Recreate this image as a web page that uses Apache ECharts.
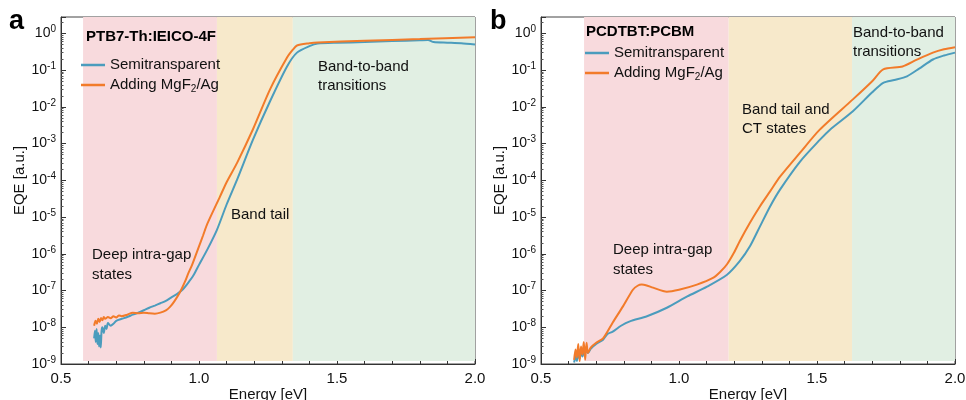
<!DOCTYPE html>
<html><head><meta charset="utf-8">
<script src="https://cdn.jsdelivr.net/npm/echarts@6/dist/echarts.min.js"></script>
<style>html,body{margin:0;padding:0;background:#fff}#c{width:966px;height:400px}</style>
</head><body><div id="c"></div>
<script>
// ---- Panel a: PTB7-Th:IEICO-4F ----
const aSemiE = [0.620,0.623,0.626,0.629,0.632,0.635,0.638,0.641,0.644,0.647,0.650,0.655,0.660,0.665,0.670,0.680,0.690,0.700,0.720,0.740,0.760,0.780,0.800,0.820,0.840,0.860,0.880,0.900,0.920,0.940,0.960,0.980,1.000,1.030,1.065,1.100,1.138,1.196,1.257,1.319,1.355,1.400,1.430,1.500,1.600,1.700,1.800,1.830,1.850,1.900,1.950,2.000];
const aSemiV = [5e-9,8e-9,4e-9,9e-9,3.5e-9,7e-9,3e-9,6e-9,2.8e-9,8e-9,1e-8,7e-9,1.1e-8,9e-9,1.3e-8,1.1e-8,1.25e-8,1.5e-8,1.7e-8,1.9e-8,2.2e-8,2.5e-8,2.9e-8,3.4e-8,3.9e-8,4.5e-8,5.2e-8,6.5e-8,8e-8,1.05e-7,1.6e-7,2.6e-7,5e-7,1.3e-6,4.5e-6,2.2e-5,1.05e-4,1.3e-3,1.4e-2,0.126,0.3,0.45,0.53,0.56,0.58,0.62,0.65,0.66,0.58,0.56,0.54,0.5];
const aMgE = [0.620,0.625,0.630,0.635,0.640,0.645,0.650,0.655,0.660,0.670,0.680,0.690,0.700,0.710,0.720,0.740,0.760,0.780,0.800,0.820,0.840,0.860,0.880,0.895,0.910,0.930,0.950,0.960,0.975,1.000,1.015,1.030,1.076,1.100,1.138,1.196,1.257,1.319,1.340,1.355,1.400,1.430,1.600,1.800,2.000];
const aMgV = [1.1e-8,1.5e-8,1.25e-8,1.7e-8,1.4e-8,1.8e-8,1.55e-8,1.9e-8,1.7e-8,1.9e-8,1.75e-8,2e-8,1.85e-8,2.1e-8,2e-8,2.2e-8,2.5e-8,2.4e-8,2.5e-8,2.4e-8,2.35e-8,2.5e-8,2.9e-8,3.6e-8,5e-8,8.7e-8,1.8e-7,2.8e-7,5e-7,1.6e-6,3.2e-6,6.5e-6,3.6e-5,8.9e-5,3e-4,2.5e-3,2.95e-2,0.22,0.36,0.47,0.54,0.57,0.63,0.7,0.79];
const aBands = [[0.58,1.065],[1.065,1.34],[1.34,2.0]];

// ---- Panel b: PCDTBT:PCBM ----
const bSemiE = [0.620,0.625,0.630,0.635,0.640,0.645,0.650,0.660,0.670,0.680,0.700,0.725,0.740,0.760,0.790,0.822,0.884,0.956,1.030,1.100,1.174,1.220,1.257,1.293,1.330,1.366,1.438,1.510,1.547,1.630,1.700,1.740,1.780,1.826,1.870,1.920,1.960,2.000];
const bSemiV = [1.1e-9,1.6e-9,1.2e-9,2e-9,1.4e-9,2.2e-9,1.6e-9,2.4e-9,2e-9,2.6e-9,3.5e-9,4.6e-9,6.5e-9,7.6e-9,1.1e-8,1.45e-8,2e-8,3.4e-8,6.9e-8,1.26e-7,2.7e-7,6.3e-7,1.6e-6,5.5e-6,1.95e-5,5.6e-5,3.2e-4,1.26e-3,2.4e-3,7.6e-3,2.5e-2,4.5e-2,5.4e-2,6.8e-2,0.11,0.195,0.25,0.3];
const bMgE = [0.620,0.625,0.630,0.635,0.640,0.645,0.650,0.655,0.660,0.665,0.670,0.680,0.700,0.725,0.760,0.797,0.833,0.850,0.865,0.880,0.906,0.956,1.000,1.065,1.123,1.149,1.174,1.200,1.220,1.257,1.293,1.330,1.366,1.438,1.510,1.630,1.700,1.740,1.810,1.860,1.920,1.960,2.000];
const bMgV = [1.3e-9,2.5e-9,1.5e-9,3.5e-9,1.2e-9,3e-9,1.8e-9,4e-9,1.3e-9,3.8e-9,2e-9,2.8e-9,3.8e-9,5e-9,1.35e-8,3.7e-8,1.05e-7,1.35e-7,1.45e-7,1.4e-7,1.2e-7,9.3e-8,1.05e-7,1.45e-7,2.2e-7,3.2e-7,5.2e-7,1.1e-6,2.2e-6,7e-6,1.95e-5,5e-5,1.26e-4,5.6e-4,2.4e-3,1.6e-2,5e-2,0.105,0.126,0.19,0.3,0.37,0.42];
const bBands = [[0.656,1.18],[1.18,1.627],[1.627,2.0]];

const xTicks = [0.5, 1.0, 1.5, 2.0];
const yRange = [1e-9, 2.8];
const bandYRange = [1.2e-9, 2.8];
const seriesNames = ['Semitransparent', 'Adding MgF2/Ag'];

const FONT = '"Liberation Sans", Arial, sans-serif';
const BLUE = '#4b9cbd', ORANGE = '#f27b2a';
const bandColors = ['#f8dadd', '#f7e9cb', '#e1efe3'];
const zip = (e, v) => e.map((x, i) => [x, v[i]]);

function xAxis(gi) {
  return {
    type: 'value', gridIndex: gi, min: xTicks[0], max: xTicks[xTicks.length - 1], interval: 0.5,
    axisLine: { lineStyle: { color: '#333', width: 1 } },
    axisTick: { inside: true, length: 5, lineStyle: { color: '#333' } },
    minorTick: { show: true, splitNumber: 5, length: 3, lineStyle: { color: '#333' } },
    splitLine: { show: false },
    axisLabel: { fontFamily: FONT, fontSize: 15, color: '#111', margin: 7, formatter: v => v.toFixed(1) },
    name: 'Energy [eV]', nameLocation: 'middle', nameGap: 23, nameMoveOverlap: false,
    nameTextStyle: { fontFamily: FONT, fontSize: 15, color: '#111' }
  };
}
function yAxis(gi) {
  return {
    type: 'log', logBase: 10, gridIndex: gi, min: yRange[0], max: yRange[1], splitNumber: 10,
    axisLine: { show: true, lineStyle: { color: '#333', width: 1 } },
    axisTick: { show: true, inside: true, length: 5, lineStyle: { color: '#333' } },
    minorTick: { show: true, splitNumber: 9, length: 2.5, lineStyle: { color: '#555' } },
    splitLine: { show: false },
    axisLabel: {
      margin: 5, fontFamily: FONT,
      formatter: v => {
        const l = Math.log10(v), e = Math.round(l);
        if (Math.abs(l - e) > 0.01) return '';
        return '{b|10}{s|' + e + '}';
      },
      rich: {
        b: { fontFamily: FONT, fontSize: 14, color: '#111' },
        s: { fontFamily: FONT, fontSize: 10, color: '#111', padding: [0, 0, 8, 0] }
      }
    },
    name: 'EQE [a.u.]', nameLocation: 'middle', nameGap: 34, nameRotate: 90,
    nameTextStyle: { fontFamily: FONT, fontSize: 15, color: '#111', padding: [0, 0, 0, 20] }
  };
}
function bandSeries(gi, bands) {
  return {
    type: 'line', xAxisIndex: gi, yAxisIndex: gi, data: [], silent: true, z: 0,
    markArea: {
      silent: true,
      data: bands.map((b, i) => [
        { xAxis: b[0], yAxis: bandYRange[0], itemStyle: { color: bandColors[i] } },
        { xAxis: b[1], yAxis: bandYRange[1] }
      ])
    }
  };
}
function lineSeries(gi, name, data, color) {
  return {
    type: 'line', name, xAxisIndex: gi, yAxisIndex: gi, data, showSymbol: false, smooth: 0.25,
    lineStyle: { color, width: 2 }, itemStyle: { color }, z: 3
  };
}
function legend(left, top) {
  return {
    left, top, orient: 'vertical', padding: 0, itemGap: 4, itemWidth: 24, itemHeight: 2.5, icon: 'rect',
    data: seriesNames,
    formatter: n => n === 'Adding MgF2/Ag' ? 'Adding MgF{sub|2}/Ag' : n,
    textStyle: {
      fontFamily: FONT, fontSize: 15, color: '#111', lineHeight: 16,
      rich: { sub: { fontFamily: FONT, fontSize: 10, color: '#111', padding: [8, 0, 0, 0] } }
    }
  };
}
function txt(left, top, text, opts) {
  return { type: 'text', left, top, silent: true, z: 10,
    style: Object.assign({ text, font: '15px ' + FONT, fill: '#111', lineHeight: 19 }, opts || {}) };
}

const gridBase = { top: 17, width: 414, height: 347, show: true, borderColor: '#444', borderWidth: 1,
  backgroundColor: 'transparent', containLabel: false, outerBoundsMode: 'none' };
const option = {
  animation: false,
  backgroundColor: '#fff',
  grid: [
    Object.assign({ left: 61 }, gridBase),
    Object.assign({ left: 541 }, gridBase)
  ],
  xAxis: [xAxis(0), xAxis(1)],
  yAxis: [yAxis(0), yAxis(1)],
  legend: [legend(81, 57), legend(585, 45)],
  series: [
    bandSeries(0, aBands),
    bandSeries(1, bBands),
    lineSeries(0, seriesNames[0], zip(aSemiE, aSemiV), BLUE),
    lineSeries(0, seriesNames[1], zip(aMgE, aMgV), ORANGE),
    lineSeries(1, seriesNames[0], zip(bSemiE, bSemiV), BLUE),
    lineSeries(1, seriesNames[1], zip(bMgE, bMgV), ORANGE)
  ],
  graphic: [
    txt(9, 8, 'a', { font: 'bold 27px ' + FONT, fill: '#000' }),
    txt(86, 27, 'PTB7-Th:IEICO-4F', { font: 'bold 15px ' + FONT, fill: '#000' }),
    txt(92, 245, 'Deep intra-gap\nstates', { lineHeight: 20 }),
    txt(231, 205, 'Band tail'),
    txt(318, 57, 'Band-to-band\ntransitions'),
    txt(490, 8, 'b', { font: 'bold 27px ' + FONT, fill: '#000' }),
    txt(586, 22, 'PCDTBT:PCBM', { font: 'bold 15px ' + FONT, fill: '#000' }),
    txt(613, 240, 'Deep intra-gap\nstates', { lineHeight: 20 }),
    txt(742, 100, 'Band tail and\nCT states'),
    txt(853, 23, 'Band-to-band\ntransitions')
  ]
};
const chart = echarts.init(document.getElementById('c'), null, { renderer: 'canvas' });
chart.setOption(option);
</script></body></html>
